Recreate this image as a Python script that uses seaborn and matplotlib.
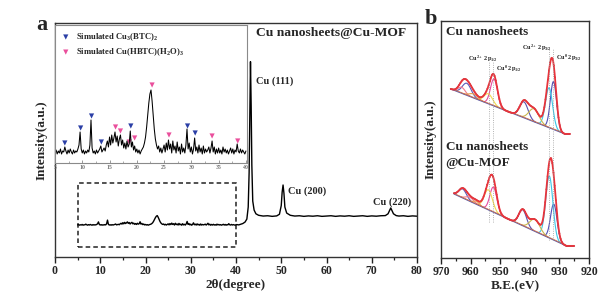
import numpy as np
import pandas as pd
import seaborn as sns
import matplotlib.pyplot as plt
from matplotlib.patches import Rectangle
from matplotlib.ticker import MultipleLocator

# ---------------- panel a : XRD ----------------
# 5-40 deg, 0.2 deg steps (the same trace is blown up in the inset)
xrd_lo = [101, 103, 99, 102, 100, 104, 99, 102, 101, 106,
          102, 99, 103, 100, 104, 101, 99, 103, 100, 102,
          101, 104, 108, 121, 104, 100, 103, 99, 102, 100,
          103, 101, 108, 133, 105, 100, 102, 99, 103, 100,
          102, 104, 107, 101, 103, 105, 102, 108, 112, 106,
          116, 108, 118, 110, 115, 121, 111, 117, 107, 114,
          118, 108, 113, 105, 110, 104, 112, 106, 109, 122,
          106, 111, 103, 107, 101, 104, 100, 103, 99, 102,
          104, 106, 110, 116, 126, 138, 150, 159, 163, 152,
          138, 124, 114, 108, 104, 107, 101, 105, 100, 104,
          108, 101, 110, 103, 113, 104, 109, 100, 112, 103,
          107, 100, 111, 102, 106, 99, 109, 101, 105, 100,
          108, 124, 104, 110, 101, 106, 99, 104, 115, 102,
          106, 100, 108, 101, 105, 99, 107, 100, 104, 101,
          103, 106, 100, 105, 112, 101, 106, 99, 104, 100,
          105, 100, 103, 99, 106, 101, 104, 100, 103, 99,
          102, 105, 100, 104, 99, 103, 101, 109, 102, 100,
          104, 100, 103, 101, 99, 102]
theta_lo = np.round(5 + 0.2 * np.arange(len(xrd_lo)), 1)

theta_hi = [40.2, 40.6, 41.0, 41.5, 42.0, 42.4, 42.7, 42.9, 43.05, 43.2, 43.35,
            43.5, 43.7, 44.0, 44.4, 45.0, 46.0, 47.0, 48.0, 49.0, 49.6, 50.0,
            50.2, 50.4, 50.6, 50.8, 51.2, 52.0, 53, 54, 55, 56, 57, 58, 59, 60,
            61, 62, 63, 64, 65, 66, 67, 68, 69, 70, 71, 72, 73, 73.6, 73.9,
            74.2, 74.5, 74.8, 75.4, 76, 77, 78, 79, 80]
xrd_hi = [103, 101, 105, 110, 120, 140, 220, 450, 850, 1189, 900,
          500, 260, 200, 175, 165, 160, 162, 158, 161, 172, 230,
          320, 367, 310, 220, 180, 165, 160, 162, 158, 161, 159, 162, 158, 160,
          162, 158, 161, 159, 162, 158, 160, 162, 158, 161, 159, 162, 163, 175, 195,
          214, 195, 175, 163, 160, 162, 158, 161, 159]

cu_labels = ['Cu (111)', 'Cu (200)', 'Cu (220)']
theta_ticks = [0, 10, 20, 30, 40, 50, 60, 70, 80]

# simulated reference reflections marked in the inset
btc_theta = [6.8, 9.7, 11.7, 13.5, 18.9, 29.3, 30.7]
btc_level = [110, 125, 137, 111, 127, 127, 120]
hbtc_theta = [16.1, 17.0, 18.6, 19.6, 22.8, 25.9, 33.8, 38.5]
hbtc_level = [126, 122, 111, 115, 168, 118, 117, 112]

# ---------------- panel b : Cu 2p XPS ----------------
be_ticks = [970, 960, 950, 940, 930, 920]
comp_colors = ['#5050b4', '#3cc6e6', '#5a52b0', '#c9b64c', '#e64a9e',
               '#f0d850', '#5c58b8', '#f07a90', '#e8a050']

ns_bg_be = [966.7, 928.2]
ns_bg = [169, 124]
ns_center = [932.0, 933.5, 942.0, 938.6, 952.1, 954.0, 961.3, 963.0, 959.0]
ns_height = [48, 40, 16, 13, 27, 10, 12, 6, 4]
ns_sigma = [1.05, 1.2, 1.4, 1.7, 1.2, 1.5, 1.5, 1.2, 1.5]

mof_bg_be = [965.6, 927.6]
mof_bg = [64, 12]
mof_center = [931.9, 933.4, 942.4, 938.3, 952.3, 954.0, 962.7, 960.3, 958.0]
mof_height = [36, 62, 16, 12, 25, 20, 9, 4, 3]
mof_sigma = [1.1, 1.2, 1.3, 1.7, 1.2, 1.4, 1.3, 1.4, 1.0]

xps_marks = [953.9, 952.6, 933.6, 932.1]

sns.set_style('ticks')
plt.rcParams['font.family'] = ['Liberation Serif', 'DejaVu Serif']
plt.rcParams['font.weight'] = 'bold'
plt.rcParams['axes.labelweight'] = 'bold'
plt.rcParams['mathtext.fontset'] = 'custom'
plt.rcParams['mathtext.rm'] = 'Liberation Serif:bold'
plt.rcParams['mathtext.it'] = 'Liberation Serif:bold'
plt.rcParams['mathtext.default'] = 'rm'

fig = plt.figure(figsize=(6.13, 3.0), dpi=100)
ax_a = fig.add_axes([55 / 613, 43 / 300, 362 / 613, 234 / 300])
ax_in = fig.add_axes([55 / 613, 137 / 300, 192 / 613, 138 / 300])
ax_b = fig.add_axes([441 / 613, 42 / 300, 148 / 613, 237 / 300])


def style_bottom(ax, ticks):
    ax.set_yticks([])
    ax.set_xticks(ticks)
    ax.set_xticklabels([str(t) for t in ticks], fontweight='bold',
                       fontsize=8.5)
    ax.xaxis.set_minor_locator(MultipleLocator(5))
    ax.tick_params(axis='x', which='major', direction='out', length=4,
                   width=1.0, pad=1.5, color='#222222')
    ax.tick_params(axis='x', which='minor', direction='out', length=2.2,
                   width=0.9, color='#222222')
    for s in ax.spines.values():
        s.set_linewidth(1.0)
        s.set_color('#333333')


# main pattern
xrd = pd.DataFrame({'theta': np.concatenate([theta_lo, theta_hi]),
                    'I': np.concatenate([xrd_lo, xrd_hi])})
sns.lineplot(data=xrd, x='theta', y='I', ax=ax_a, color='black', lw=1.0,
             sort=False, estimator=None)
ax_a.add_patch(Rectangle((5, -46), 35, 426, fill=False, ls=(0, (3, 2)),
                         lw=1.1, ec='#222222'))
ax_a.set_xlim(0, 80)
ax_a.set_ylim(-113, 1447)
style_bottom(ax_a, theta_ticks)
ax_a.set_xlabel('2θ(degree)', fontsize=9.5, labelpad=2)
ax_a.set_ylabel('Intensity(a.u.)', fontsize=9.5, labelpad=5)

ax_a.text(44.4, 1378, 'Cu nanosheets@Cu-MOF', fontsize=9.7, va='center')
ax_a.text(44.4, 1056, cu_labels[0], fontsize=7.5, va='center')
ax_a.text(51.4, 327, cu_labels[1], fontsize=7.5, va='center')
ax_a.text(70.3, 254, cu_labels[2], fontsize=7.5, va='center')

# inset
sns.lineplot(x=theta_lo, y=xrd_lo, ax=ax_in, color='black', lw=0.75,
             sort=False, estimator=None)
sns.scatterplot(x=btc_theta, y=btc_level, ax=ax_in, marker='v', s=14,
                color='#2b3fa6', edgecolor='none',
                label='Simulated Cu$_3$(BTC)$_2$')
sns.scatterplot(x=hbtc_theta, y=hbtc_level, ax=ax_in, marker='v', s=14,
                color='#ea4f9c', edgecolor='none',
                label='Simulated Cu(HBTC)(H$_2$O)$_3$')
ax_in.legend(loc='upper left', frameon=False, fontsize=6.2, handletextpad=0.7,
             borderaxespad=0.35, labelspacing=0.4, markerscale=1.0,
             handlelength=1.0)
ax_in.set_xlim(5, 40.2)
ax_in.set_ylim(90, 228)
ax_in.set_yticks([])
ax_in.set_xticks(range(5, 41, 5))
ax_in.xaxis.set_minor_locator(MultipleLocator(2.5))
ax_in.tick_params(axis='x', which='major', direction='in', length=2.5,
                  width=0.6, color='#888888', labelsize=4.2,
                  labelcolor='#777777', pad=1.2)
ax_in.tick_params(axis='x', which='minor', direction='in', length=1.5,
                  width=0.5, color='#888888')
ax_in.set_xlabel('')
ax_in.set_ylabel('')
ax_in.set_facecolor('white')
for s in ax_in.spines.values():
    s.set_linewidth(0.8)
    s.set_color('#8a8a8a')


# XPS spectra: linear background + gaussian components + envelope
def draw_xps(be, bg_be, bg, centers, heights, sigmas):
    base = np.interp(be, bg_be[::-1], bg[::-1])
    env = base.copy()
    for c, h, w, col in zip(centers, heights, sigmas, comp_colors):
        comp = h * np.exp(-(be - c) ** 2 / (2 * w * w))
        env = env + comp
        keep = comp > 0.3
        sns.lineplot(x=be[keep], y=base[keep] + comp[keep], ax=ax_b, color=col,
                     lw=0.8, sort=False, estimator=None)
    sns.lineplot(x=be, y=base, ax=ax_b, color='#5a5aa8', lw=0.8,
                 sort=False, estimator=None)
    sns.lineplot(x=be, y=base + 0.6, ax=ax_b, color='#d0704a', lw=0.6,
                 sort=False, estimator=None)
    sns.lineplot(x=be, y=env, ax=ax_b, color='#e8343c', lw=1.3,
                 sort=False, estimator=None)
    sns.scatterplot(x=be[::4], y=env[::4], ax=ax_b, color='#9a2a2a', s=1.5,
                    edgecolor='none')


be_ns = np.round(np.arange(966.7, 926.4, -0.1), 1)
be_mof = np.round(np.arange(965.6, 925.0, -0.1), 1)
draw_xps(be_ns, ns_bg_be, ns_bg, ns_center, ns_height, ns_sigma)
draw_xps(be_mof, mof_bg_be, mof_bg, mof_center, mof_height, mof_sigma)

ax_b.vlines(xps_marks[:2], 36, 196, colors='#9a9a9a', lw=0.6, ls=':')
ax_b.vlines(xps_marks[2:], 18, 210, colors='#9a9a9a', lw=0.6, ls=':')

ax_b.text(955.7, 199, 'Cu$^{2+}$ 2p$_{1/2}$', fontsize=4.5, ha='center',
          va='center')
ax_b.text(951.3, 189, 'Cu$^{0}$ 2p$_{1/2}$', fontsize=4.5, ha='left',
          va='center')
ax_b.text(937.7, 210, 'Cu$^{2+}$ 2p$_{3/2}$', fontsize=4.5, ha='center',
          va='center')
ax_b.text(931.0, 200, 'Cu$^{0}$ 2p$_{3/2}$', fontsize=4.5, ha='left',
          va='center')
ax_b.text(968.4, 226, 'Cu nanosheets', fontsize=9.5, va='center')
ax_b.text(968.4, 111, 'Cu nanosheets', fontsize=9.5, va='center')
ax_b.text(968.4, 95, '@Cu-MOF', fontsize=9.5, va='center')

ax_b.set_xlim(970, 920)
ax_b.set_ylim(0, 237)
style_bottom(ax_b, be_ticks)
ax_b.set_xlabel('B.E.(eV)', fontsize=9.5, labelpad=2)
ax_b.set_ylabel('Intensity(a.u.)', fontsize=9.5, labelpad=3)

fig.text(42 / 613, 1 - 25 / 300, 'a', fontsize=16, ha='center', va='center')
fig.text(431 / 613, 1 - 19 / 300, 'b', fontsize=16, ha='center', va='center')

fig.savefig('out.png', dpi=100)
